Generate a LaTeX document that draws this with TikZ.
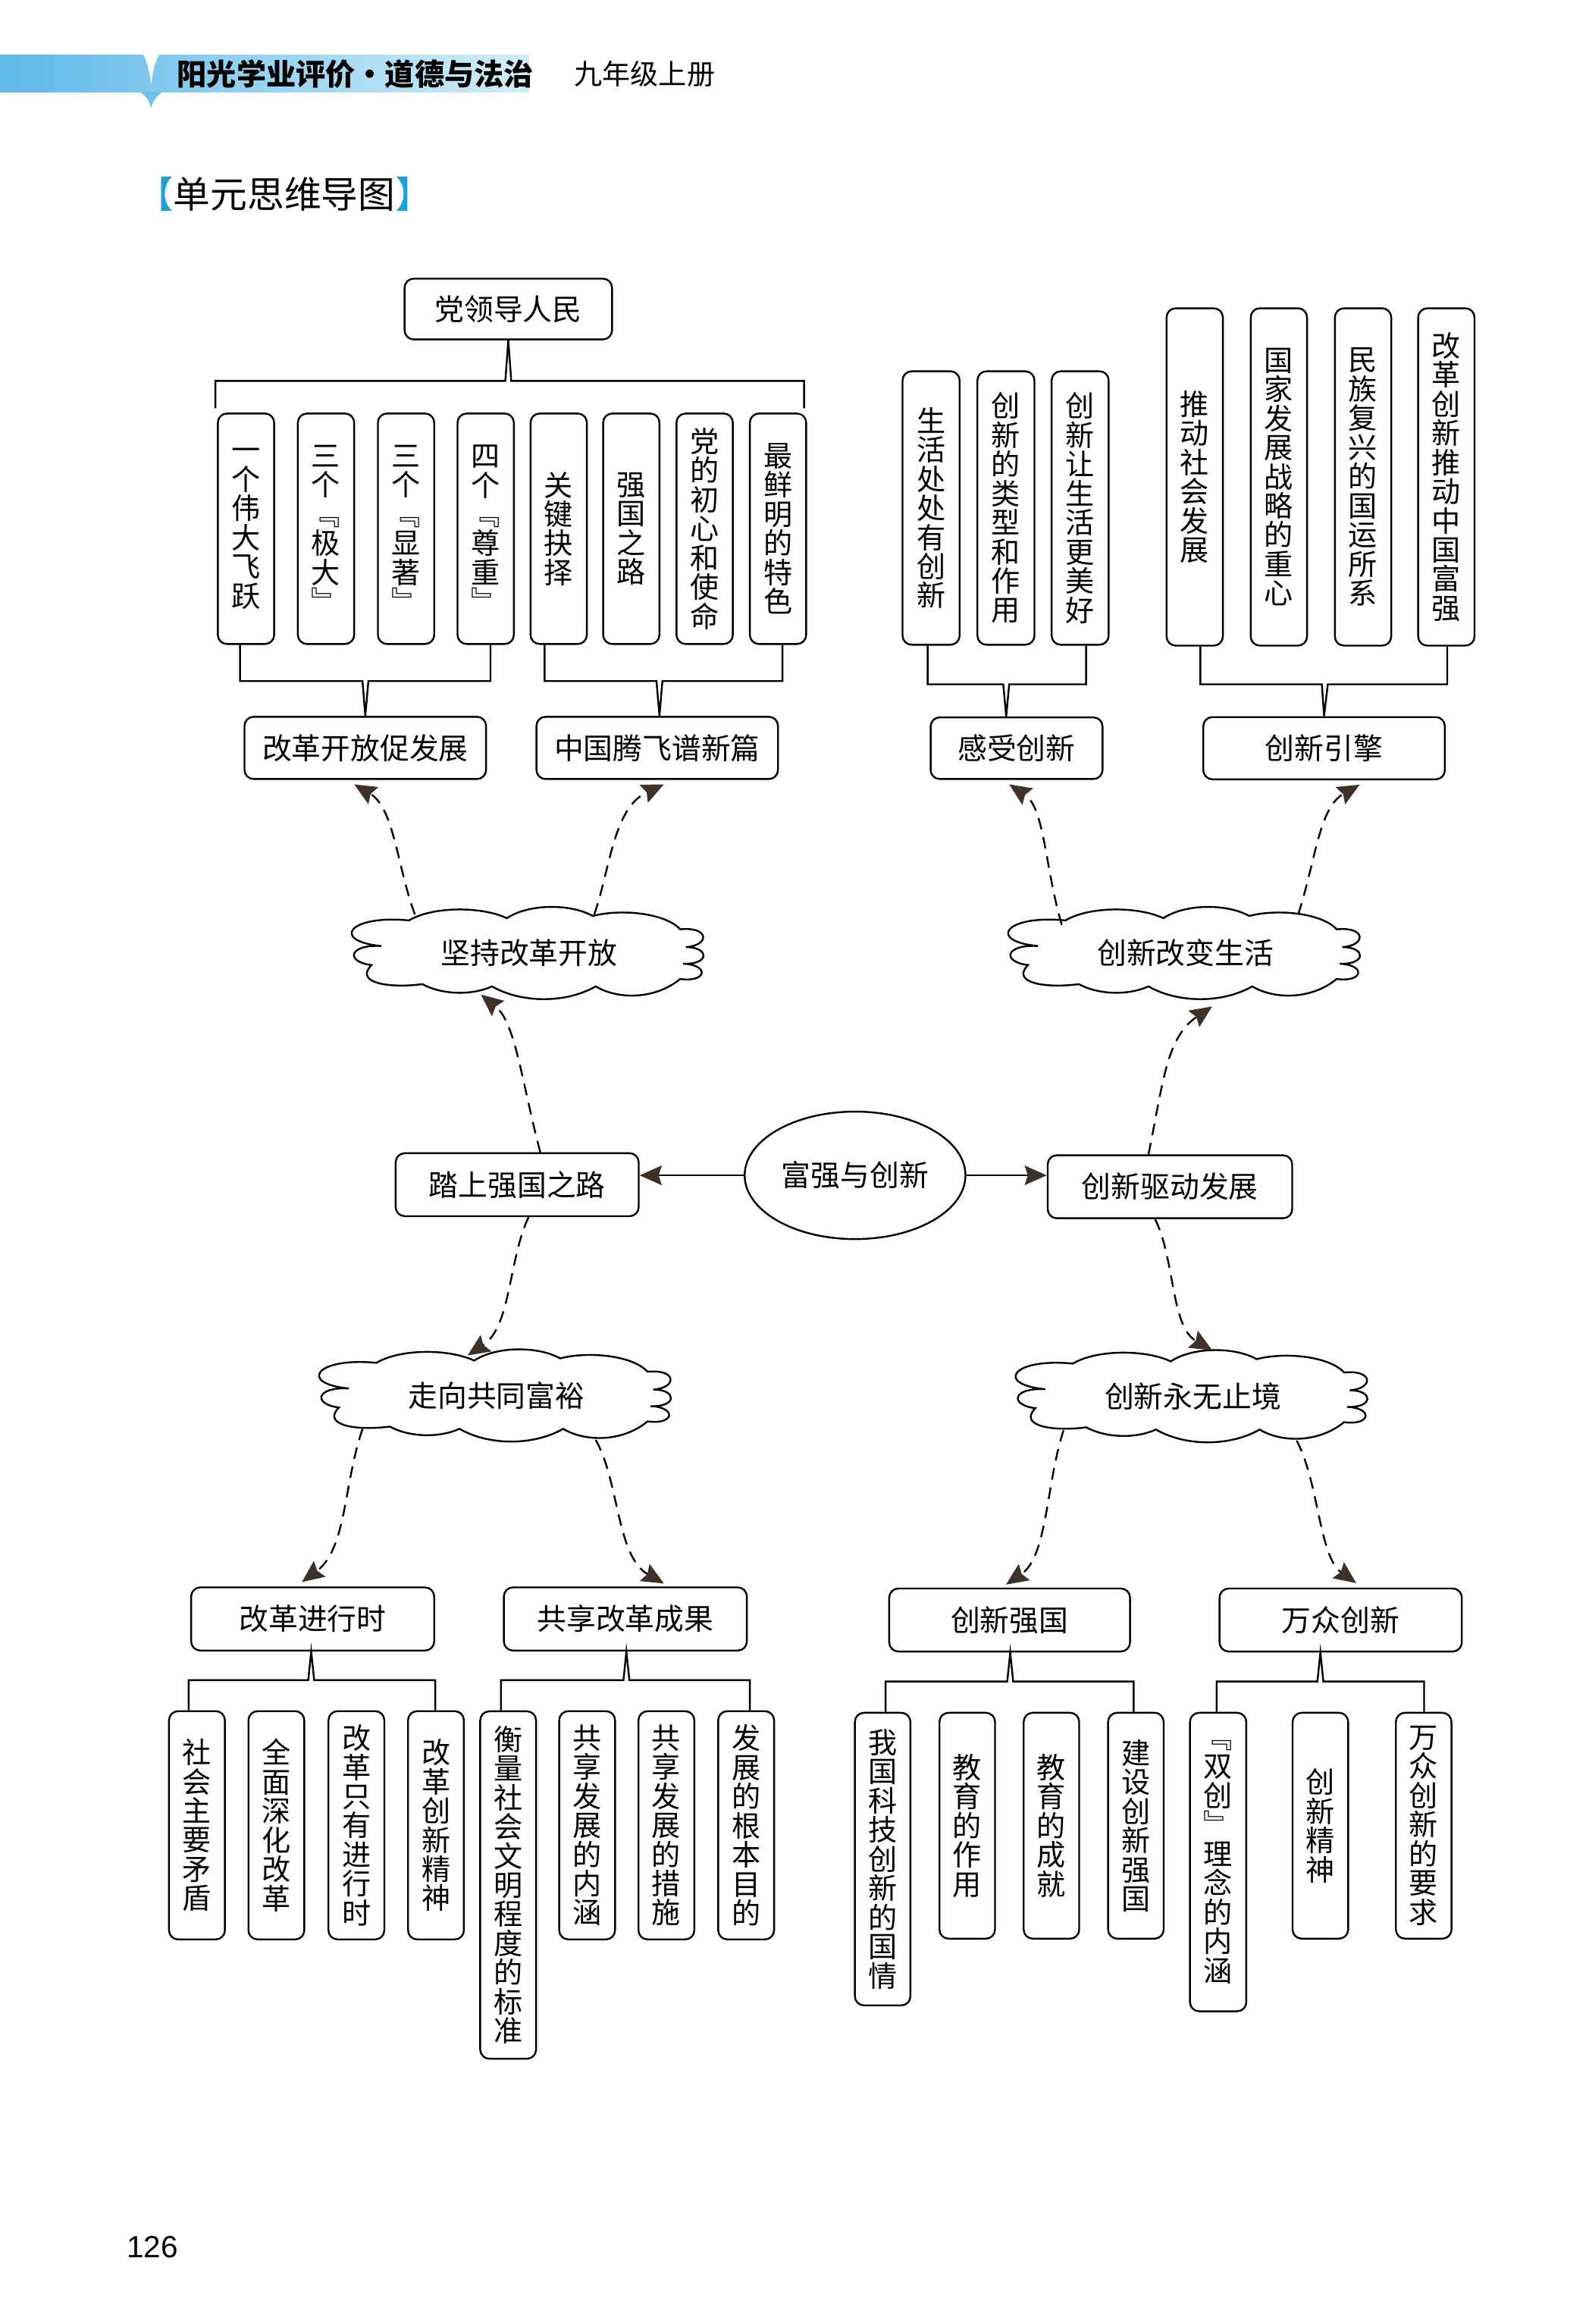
\documentclass[tikz,border=0pt]{standalone}
\usepackage{fontspec}
\setmainfont{Noto Sans CJK SC}
\newfontfamily\numfont{Liberation Sans}
\usetikzlibrary{shapes.geometric,arrows.meta,calc}
\definecolor{arrowc}{HTML}{3F3128}
\definecolor{bannerA}{HTML}{5DB8E8}
\definecolor{bannerB}{HTML}{D2EDF9}
\definecolor{brk}{HTML}{1E9FD8}
\newcommand\hfont{\fontsize{11.3}{11.3}\selectfont}
\newcommand\vfont{\fontsize{11.1}{11.2}\selectfont}
\newcommand\cloudoutline[1]{%
  \draw[shift={(#1.center)}] (-81,-22) .. controls (-65,-31.6) and (-32,-31.6) .. (-15,-23.5)
    .. controls (0,-33.4) and (28,-33.4) .. (43,-25)
    .. controls (62,-30) and (92,-27) .. (102,-16)
    .. controls (122,-18) and (122,-5) .. (105.8,-4)
    .. controls (122,-4) and (122,8) .. (104,7.2)
    .. controls (122,8) and (120,20) .. (102,17.5)
    .. controls (85,31.5) and (60,31.5) .. (45,22.5)
    .. controls (25,34) and (-5,34) .. (-25,22.5)
    .. controls (-38,28.5) and (-58,28.5) .. (-72,21)
    .. controls (-95,24) and (-118,20) .. (-106.3,8.1)
    .. controls (-124,6) and (-122,-6) .. (-99.6,-4.7)
    .. controls (-134,-8) and (-122,-26) .. (-81,-22) -- cycle;}
\begin{document}
\begin{tikzpicture}[x=0.02cm, y=-0.02cm, line width=0.7pt,
  hbox/.style 2 args={draw, rounded corners=3.5pt, minimum width=#1*0.02cm, minimum height=#2*0.02cm, inner sep=0pt, font=\hfont},
  vbox/.style 2 args={draw, rounded corners=3.5pt, minimum width=#1*0.02cm, minimum height=#2*0.02cm, inner sep=0pt, align=center, font=\vfont},
  cloudbox/.style 2 args={minimum width=#1*0.02cm, minimum height=#2*0.02cm, inner sep=0pt, font=\hfont},
  br/.style={line width=0.7pt},
  dasharrow/.style={dash pattern=on 4.5pt off 3pt, -{Stealth[length=8.5pt,width=7.5pt,inset=1.2pt,color=arrowc]}},
  solidarrow/.style={-{Stealth[length=8.5pt,width=7.5pt,inset=1.2pt,color=arrowc]}}
]
\fill[white] (0,0) rectangle (1072,1568);
\useasboundingbox (0,0) rectangle (1072,1568);

% header banner
\shade[left color=bannerA, right color=bannerB] (0,37) rectangle (357,62);
\fill[bannerA!85!bannerB] (94,62) .. controls (98,64) and (101,68) .. (102,73) .. controls (103,68) and (106,64) .. (110,62) -- cycle;
\fill[white] (96,36) .. controls (99,40) and (101,48) .. (102,57) .. controls (103,48) and (105,40) .. (108,36) -- cycle;
\node[anchor=west, font=\bfseries\fontsize{11.4}{12}\selectfont, inner sep=0pt] (bt) at (119,50) {阳光学业评价·道德与法治};
\node[anchor=west, font=\fontsize{10.8}{12}\selectfont, inner sep=0pt] (bt2) at (387,50) {九年级上册};
\node[anchor=west, font=\fontsize{14.2}{15}\selectfont, inner sep=0pt] (tt) at (91.5,131) {\textcolor{brk}{【}单元思维导图\textcolor{brk}{】}};
\node[anchor=west, font=\numfont\fontsize{11.8}{12}\selectfont, inner sep=0pt] (pn) at (85,1516) {126};

% ---------- top left ----------
\node[hbox={140}{41}] (dl) at (343,208.5) {党领导人民};
\node[vbox={38}{155.5}] (v1) at (166,356.75) {一\\个\\伟\\大\\飞\\跃};
\node[vbox={38}{155.5}] (v2) at (220,356.75) {三\\个\\﹃\\极\\大\\﹄};
\node[vbox={38}{155.5}] (v3) at (274,356.75) {三\\个\\﹃\\显\\著\\﹄};
\node[vbox={38}{155.5}] (v4) at (327.75,356.75) {四\\个\\﹃\\尊\\重\\﹄};
\node[vbox={38}{155.5}] (v5) at (377,356.75) {关\\键\\抉\\择};
\node[vbox={38}{155.5}] (v6) at (426,356.75) {强\\国\\之\\路};
\node[vbox={38}{155.5}] (v7) at (475.5,356.75) {党\\的\\初\\心\\和\\使\\命};
\node[vbox={38}{155.5}] (v8) at (525,356.75) {最\\鲜\\明\\的\\特\\色};
\node[hbox={163}{42}] (gg) at (246.5,504.6) {改革开放促发展};
\node[hbox={163}{42}] (zg) at (443.5,504.6) {中国腾飞谱新篇};

\coordinate (kt) at (343,257);
\draw[br] ($(v1.north west)+(-1,-3)$) |- ($(kt)+(-2,0)$) -- (dl.south) -- ($(kt)+(2,0)$) -| ($(v8.north east)+(-2,-3)$);
\coordinate (ka) at (246.6,459.5);
\draw[br] ($(v1.south)+(-4,0)$) |- ($(ka)+(-2,0)$) -- (gg.north) -- ($(ka)+(2,0)$) -| ($(v4.south)+(3.25,0)$);
\coordinate (kb) at (445,459.5);
\draw[br] ($(v5.south)+(-9.5,0)$) |- ($(kb)+(-2,0)$) -- ($(zg.north)+(1.5,0)$) -- ($(kb)+(2,0)$) -| ($(v8.south)+(3,0)$);

% ---------- top right ----------
\node[vbox={38.5}{184.5}] (r1) at (628.3,342.75) {生\\活\\处\\处\\有\\创\\新};
\node[vbox={38.5}{184.5}] (r2) at (678.8,342.75) {创\\新\\的\\类\\型\\和\\作\\用};
\node[vbox={38.5}{184.5}] (r3) at (728.9,342.75) {创\\新\\让\\生\\活\\更\\美\\好};
\node[vbox={38}{227.6}] (r4) at (806.2,321.8) {推\\动\\社\\会\\发\\展};
\node[vbox={38}{227.6}] (r5) at (863,321.8) {国\\家\\发\\展\\战\\略\\的\\重\\心};
\node[vbox={38}{227.6}] (r6) at (919.8,321.8) {民\\族\\复\\兴\\的\\国\\运\\所\\系};
\node[vbox={38}{227.6}] (r7) at (976,321.8) {改\\革\\创\\新\\推\\动\\中\\国\\富\\强};
\node[hbox={116}{41.6}] (gs) at (686,504.8) {感受创新};
\node[hbox={163}{42}] (yq) at (893.5,504.8) {创新引擎};

\coordinate (kc) at (679,461.7);
\draw[br] ($(r1.south)+(-2.3,0)$) |- ($(kc)+(-2,0)$) -- ($(gs.north)+(-7,0)$) -- ($(kc)+(2,0)$) -| ($(r3.south)+(4,0)$);
\coordinate (kd) at (894,461.7);
\draw[br] ($(r4.south)+(3.8,0)$) |- ($(kd)+(-2,0)$) -- (yq.north) -- ($(kd)+(2,0)$) -| ($(r7.south)+(0.6,0)$);

% ---------- middle ----------
\node[cloudbox={242}{58}] (c1) at (357,643) {坚持改革开放};
\node[cloudbox={242}{58}] (c2) at (800,643) {创新改变生活};
\node[cloudbox={241}{59}] (c3) at (335,941.5) {走向共同富裕};
\node[cloudbox={240}{60}] (c4) at (805,942) {创新永无止境};
\cloudoutline{c1}
\cloudoutline{c2}
\cloudoutline{c3}
\cloudoutline{c4}
\node[draw, ellipse, minimum width=149*0.02cm, minimum height=86*0.02cm, inner sep=0pt, font=\hfont] (el) at (577,793) {富强与创新};
\node[hbox={164}{42.5}] (ts) at (349,799.3) {踏上强国之路};
\node[hbox={165}{42.5}] (qd) at (789.5,800.7) {创新驱动发展};

% ---------- bottom ----------
\node[hbox={164}{42.6}] (gj) at (211,1092.3) {改革进行时};
\node[hbox={164}{42.6}] (gx) at (422,1092.3) {共享改革成果};
\node[hbox={162.5}{42.5}] (cq) at (681.3,1093) {创新强国};
\node[hbox={163.5}{42.5}] (wz) at (904.7,1093) {万众创新};

\draw[solidarrow] (el.west) -- (el.west -| ts.east);
\draw[solidarrow] (el.east) -- (el.east -| qd.west);

\draw[dasharrow] ($(c1.center)+(-77,-26)$) .. controls (268,585) and (266,545) .. ($(gg.south)+(-7.5,3)$);
\draw[dasharrow] ($(c1.center)+(44,-26)$) .. controls (412,585) and (414,545) .. ($(zg.south)+(4.5,3)$);
\draw[dasharrow] ($(ts.north)+(15.6,0)$) .. controls (352,730) and (348,690) .. ($(c1.center)+(-32.5,28)$);
\draw[dasharrow] ($(qd.north)+(-14.5,0)$) .. controls (785,730) and (787,700) .. ($(c2.center)+(18,36)$);
\draw[dasharrow] ($(c2.center)+(-83.5,-19)$) .. controls (705,585) and (705,545) .. ($(gs.south)+(-5,3)$);
\draw[dasharrow] ($(c2.center)+(76,-26)$) .. controls (888,580) and (890,545) .. ($(yq.south)+(24,3)$);
\draw[dasharrow] ($(ts.south)+(7.7,0)$) .. controls (343,850) and (345,895) .. ($(c3.center)+(-19.5,-27)$);
\draw[dasharrow] ($(qd.south)+(-10,0)$) .. controls (793,850) and (790,895) .. ($(c4.center)+(13,-31)$);
\draw[dasharrow] ($(c3.center)+(-90.3,22.5)$) .. controls (232,1000) and (234,1045) .. ($(gj.north)+(-7.3,-3)$);
\draw[dasharrow] ($(c3.center)+(67,30)$) .. controls (418,1000) and (416,1050) .. ($(gx.north)+(26,-2)$);
\draw[dasharrow] ($(c4.center)+(-87.3,23)$) .. controls (706,1000) and (707,1050) .. ($(cq.north)+(-2.5,-2)$);
\draw[dasharrow] ($(c4.center)+(70,30)$) .. controls (890,1000) and (890,1050) .. ($(wz.north)+(10.5,-3)$);

\node[vbox={37.7}{154}] (b1) at (132.9,1231.5) {社\\会\\主\\要\\矛\\盾};
\node[vbox={37.7}{154}] (b2) at (186.5,1231.5) {全\\面\\深\\化\\改\\革};
\node[vbox={37.7}{154}] (b3) at (240.5,1231.5) {改\\革\\只\\有\\进\\行\\时};
\node[vbox={37.7}{154}] (b4) at (294.2,1231.5) {改\\革\\创\\新\\精\\神};
\node[vbox={37.7}{234.4}] (b5) at (342.9,1271.8) {衡\\量\\社\\会\\文\\明\\程\\度\\的\\标\\准};
\node[vbox={37.7}{154}] (b6) at (396.2,1231.5) {共\\享\\发\\展\\的\\内\\涵};
\node[vbox={37.7}{154}] (b7) at (449.7,1231.5) {共\\享\\发\\展\\的\\措\\施};
\node[vbox={37.7}{154}] (b8) at (503.5,1231.5) {发\\展\\的\\根\\本\\目\\的};

\node[vbox={37.5}{197.4}] (d1) at (595.6,1254.3) {我\\国\\科\\技\\创\\新\\的\\国\\情};
\node[vbox={37.5}{152.4}] (d2) at (652.7,1231.8) {教\\育\\的\\作\\用};
\node[vbox={37.5}{152.4}] (d3) at (709.5,1231.8) {教\\育\\的\\成\\就};
\node[vbox={37.5}{152.4}] (d4) at (766.5,1231.8) {建\\设\\创\\新\\强\\国};
\node[vbox={38}{201.4}] (d5) at (822,1256.3) {﹃\\双\\创\\﹄\\理\\念\\的\\内\\涵};
\node[vbox={37.5}{152.4}] (d6) at (891,1231.8) {创\\新\\精\\神};
\node[vbox={37.5}{152.4}] (d7) at (960.7,1231.8) {万\\众\\创\\新\\的\\要\\求};

\coordinate (ke) at (210,1133.6);
\draw[br] ($(b1.north)+(-5.6,0)$) |- ($(ke)+(-2,0)$) -- ($(gj.south)+(-1,0)$) -- ($(ke)+(2,0)$) -| ($(b4.north)+(-0.5,0)$);
\coordinate (kf) at (422.7,1133.6);
\draw[br] ($(b5.north)+(-4.9,0)$) |- ($(kf)+(-2,0)$) -- ($(gx.south)+(0.7,0)$) -- ($(kf)+(2,0)$) -| ($(b8.north)+(2.5,0)$);
\coordinate (kg) at (681.7,1134.5);
\draw[br] ($(d1.north)+(2,0)$) |- ($(kg)+(-2,0)$) -- ($(cq.south)+(0.4,0)$) -- ($(kg)+(2,0)$) -| ($(d4.north)+(-1.5,0)$);
\coordinate (kh) at (891,1134.5);
\draw[br] ($(d5.north)+(-1,0)$) |- ($(kh)+(-2,0)$) -- ($(wz.south)+(-13.7,0)$) -- ($(kh)+(2,0)$) -| ($(d7.north)+(0.3,0)$);
\end{tikzpicture}
\end{document}
